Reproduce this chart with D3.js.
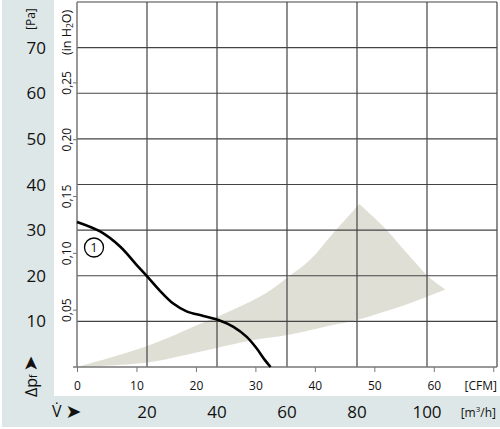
<!DOCTYPE html>
<html>
<head>
<meta charset="utf-8">
<script src="https://cdn.jsdelivr.net/npm/d3@7"></script>
<style>
  body { margin: 0; background: #fff; }
  text { font-family: "Open Sans", "DejaVu Sans", sans-serif; fill: #111; }
</style>
</head>
<body>
<script>
var svgWidth = 500;
var svgHeight = 429;

// curve 1: flow [m3/h] vs static pressure [Pa]
var curveFlow = [0, 6.6, 12.3, 17.0, 20.1, 23.7, 27.5, 31.3, 36.1, 40.4, 44.7, 48.5, 51.3, 53.7, 55.3];
var curvePa   = [31.8, 29.7, 26.4, 22.4, 19.8, 16.7, 13.9, 12.2, 11.2, 10.3, 8.8, 6.6, 4.1, 1.5, 0];

// shaded operating range, three edges
var upperFlow = [0, 20.1, 35.1, 44.7, 54.2, 60.1, 66.6, 73.2, 80.7];
var upperPa   = [0, 4.6, 9.4, 12.6, 16.3, 19.6, 23.5, 29.3, 35.7];
var edgeFlow  = [80.7, 88.5, 95.1, 100.4, 105.3];
var edgePa    = [35.7, 30.0, 24.2, 19.8, 17.0];
var lowerFlow = [105.3, 95.1, 79.9, 73.2, 60.1, 50.4, 35.1, 20.1, 0];
var lowerPa   = [17.0, 14.0, 10.3, 9.2, 7.0, 5.9, 3.35, 1.0, 0];

var paTicks   = [10, 20, 30, 40, 50, 60, 70];
var paGrid    = [10, 20, 30, 40, 50, 60, 70, 80];
var flowTicks = [20, 40, 60, 80, 100];
var flowGrid  = [20, 40, 60, 80, 100, 120];
var cfmTicks  = [0, 10, 20, 30, 40, 50, 60, 70];
var cfmLabels = [0, 10, 20, 30, 40, 50, 60];
var inTicks   = [0.05, 0.10, 0.15, 0.20, 0.25];

var x = d3.scaleLinear().domain([0, 120]).range([77, 497]);
var y = d3.scaleLinear().domain([0, 80]).range([367, 2]);
var xCfm = d3.scaleLinear().domain([0, 120 / 1.699]).range([77, 497]);
var yIn = d3.scaleLinear().domain([0, 80 / 249.09]).range([367, 2]);

var svg = d3.select("body")
  .append("svg")
  .attr("width", svgWidth)
  .attr("height", svgHeight);

// panels
svg.append("rect").attr("x", 2).attr("y", 0).attr("width", 498).attr("height", 427).attr("fill", "#dde7e7");
svg.append("rect").attr("x", 54).attr("y", 0).attr("width", 446).attr("height", 396).attr("fill", "#fff");

// shaded area
var seg = d3.line().x(d => x(d[0])).y(d => y(d[1])).curve(d3.curveCatmullRom);
var up = seg(d3.zip(upperFlow, upperPa));
var ed = seg(d3.zip(edgeFlow, edgePa)).replace(/^M/, "L");
var lo = seg(d3.zip(lowerFlow, lowerPa)).replace(/^M/, "L");
svg.append("path")
  .attr("d", up + ed + lo + "Z")
  .attr("fill", "#e0dfd5");

// grid
svg.selectAll(".hgrid").data(paGrid).enter().append("line")
  .attr("x1", x(0)).attr("x2", x(120))
  .attr("y1", d => y(d)).attr("y2", d => y(d))
  .attr("stroke", "#444").attr("stroke-width", 1.2);
svg.selectAll(".vgrid").data(flowGrid).enter().append("line")
  .attr("x1", d => x(d)).attr("x2", d => x(d))
  .attr("y1", y(0)).attr("y2", y(80))
  .attr("stroke", "#444").attr("stroke-width", 1.2);

// axes lines
svg.append("line").attr("x1", x(0)).attr("x2", x(0)).attr("y1", y(80)).attr("y2", y(0))
  .attr("stroke", "#777").attr("stroke-width", 1.5);
svg.append("line").attr("x1", 73).attr("x2", x(120)).attr("y1", y(0)).attr("y2", y(0))
  .attr("stroke", "#777").attr("stroke-width", 1.5);

// CFM axis
var cfmAxis = svg.append("g")
  .attr("transform", `translate(0, ${y(0)})`)
  .call(d3.axisBottom(xCfm).tickValues(cfmTicks).tickSize(5).tickPadding(9)
    .tickFormat(d => cfmLabels.includes(d) ? d : ""));
cfmAxis.select(".domain").remove();
cfmAxis.selectAll("line").attr("stroke", "#777");
cfmAxis.selectAll("text").attr("font-size", 12).attr("font-family", null).attr("fill", "#111");
svg.append("text").attr("x", 497).attr("y", 390).attr("text-anchor", "end")
  .attr("font-size", 12).text("[CFM]");

// in H2O axis
svg.selectAll(".intick").data(inTicks).enter().append("line")
  .attr("x1", 73).attr("x2", x(0))
  .attr("y1", d => yIn(d)).attr("y2", d => yIn(d))
  .attr("stroke", "#777");
svg.selectAll(".inlabel").data(inTicks).enter().append("text")
  .attr("transform", d => `translate(71, ${yIn(d)}) rotate(-90)`)
  .attr("text-anchor", "middle")
  .attr("font-size", 12)
  .text(d => d3.format(".2f")(d).replace(".", ","));
var inUnit = svg.append("text")
  .attr("transform", "translate(71, 55) rotate(-90)")
  .attr("font-size", 12.5);
inUnit.append("tspan").text("(in H");
inUnit.append("tspan").attr("font-size", 8.5).attr("dy", 2).text("2");
inUnit.append("tspan").attr("dy", -2).text("O)");

// Pa labels
svg.selectAll(".palabel").data(paTicks).enter().append("text")
  .attr("x", 46).attr("y", d => y(d))
  .attr("dy", "0.36em")
  .attr("text-anchor", "end")
  .attr("font-size", 17)
  .text(d => d);
svg.append("text").attr("transform", "translate(35, 30) rotate(-90)")
  .attr("font-size", 12).text("[Pa]");

// delta p label
var dp = svg.append("text").attr("transform", "translate(37, 397) rotate(-90)")
  .attr("font-size", 16);
dp.append("tspan").text("Δp");
dp.append("tspan").attr("font-size", 10).text("f");
dp.append("tspan").attr("dx", 3).attr("font-size", 19)
  .attr("font-family", "DejaVu Sans").text("➤");

// m3/h labels
svg.selectAll(".flowlabel").data(flowTicks).enter().append("text")
  .attr("x", d => x(d)).attr("y", 418)
  .attr("text-anchor", "middle")
  .attr("font-size", 17)
  .text(d => d);
var mu = svg.append("text").attr("x", 496).attr("y", 417).attr("text-anchor", "end")
  .attr("font-size", 12);
mu.append("tspan").text("[m");
mu.append("tspan").attr("font-size", 8).attr("dy", -5).text("3");
mu.append("tspan").attr("dy", 5).text("/h]");
var vd = svg.append("text").attr("x", 52).attr("y", 417).attr("font-size", 16);
vd.append("tspan").text("V\u0307");
vd.append("tspan").attr("dx", 4).attr("dy", 1).attr("font-size", 19)
  .attr("font-family", "DejaVu Sans").text("➤");

// curve 1
svg.append("path")
  .datum(d3.zip(curveFlow, curvePa))
  .attr("d", d3.line().x(d => x(d[0])).y(d => y(d[1])).curve(d3.curveCatmullRom))
  .attr("fill", "none")
  .attr("stroke", "#000")
  .attr("stroke-width", 2.6);

svg.append("circle").attr("cx", 94).attr("cy", 247.5).attr("r", 9.5)
  .attr("fill", "#fff").attr("stroke", "#000").attr("stroke-width", 1.3);
svg.append("text").attr("x", 94).attr("y", 247.5).attr("dy", "0.36em")
  .attr("text-anchor", "middle").attr("font-size", 13).text("1");
</script>
</body>
</html>
